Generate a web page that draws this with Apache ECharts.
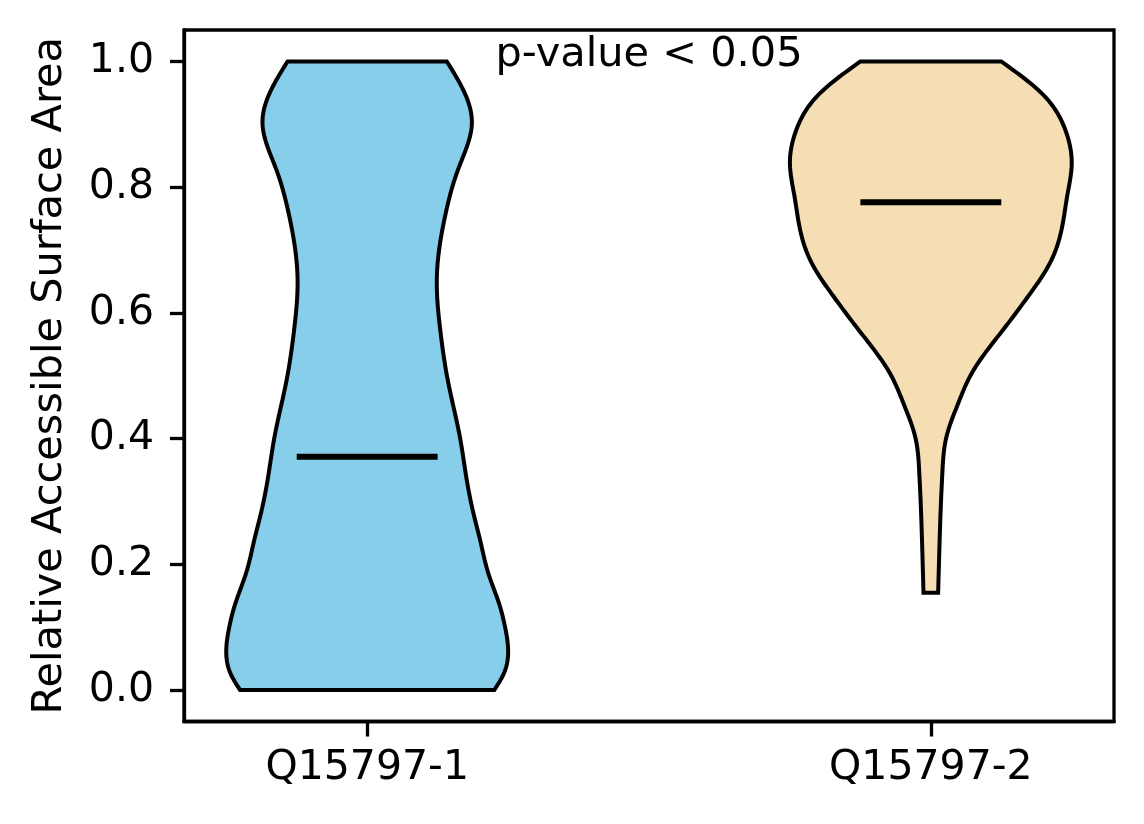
<!DOCTYPE html>
<html>
<head>
<meta charset="utf-8">
<script src="https://cdn.jsdelivr.net/npm/echarts@6/dist/echarts.min.js"></script>
<style>html,body{margin:0;padding:0;background:#fff;}#chart{width:1144px;height:824px;}</style>
</head>
<body>
<div id="chart"></div>
<script>
// ---- data ----
var categories = ['Q15797-1', 'Q15797-2'];
var positions = [1, 2];
var medians = [0.371, 0.776];
var yTicks = [0.0, 0.2, 0.4, 0.6, 0.8, 1.0];
// violin profiles: value levels and relative density (1 = widest)
var violin1Values  = [0.0, 0.028, 0.065, 0.102, 0.134, 0.187, 0.24, 0.272, 0.335, 0.4, 0.494, 0.574, 0.653, 0.754, 0.828, 0.9025, 0.955, 1.0];
var violin1Density = [0.902, 0.973, 1.0, 0.977, 0.941, 0.858, 0.80, 0.764, 0.706, 0.66, 0.571, 0.518, 0.494, 0.553, 0.645, 0.743, 0.681, 0.565];
var violin2Values  = [0.155, 0.203, 0.256, 0.309, 0.346, 0.399, 0.42, 0.452, 0.505, 0.574, 0.627, 0.68, 0.722, 0.786, 0.839, 0.892, 0.945, 1.0];
var violin2Density = [0.052, 0.058, 0.065, 0.074, 0.082, 0.107, 0.133, 0.187, 0.293, 0.516, 0.693, 0.847, 0.917, 0.968, 1.0, 0.953, 0.806, 0.5];
var fillColors = ['#87CEEB', '#F5DEB3'];
var annotation = 'p-value < 0.05';

var profiles = [
  {values: violin1Values, density: violin1Density},
  {values: violin2Values, density: violin2Density}
];
var halfWidth = 0.25; // violin width 0.5

// natural cubic spline through the read profile (visual smoothing only)
function makeSpline(xs, ys) {
  var n = xs.length, h = [], al = [], l = [1], mu = [0], z = [0], c = new Array(n).fill(0), b = [], d = [];
  for (var i = 0; i < n - 1; i++) h.push(xs[i + 1] - xs[i]);
  for (i = 1; i < n - 1; i++) al[i] = 3 / h[i] * (ys[i + 1] - ys[i]) - 3 / h[i - 1] * (ys[i] - ys[i - 1]);
  for (i = 1; i < n - 1; i++) {
    l[i] = 2 * (xs[i + 1] - xs[i - 1]) - h[i - 1] * mu[i - 1];
    mu[i] = h[i] / l[i];
    z[i] = (al[i] - h[i - 1] * z[i - 1]) / l[i];
  }
  z[n - 1] = 0;
  for (var j = n - 2; j >= 0; j--) {
    c[j] = z[j] - mu[j] * c[j + 1];
    b[j] = (ys[j + 1] - ys[j]) / h[j] - h[j] * (c[j + 1] + 2 * c[j]) / 3;
    d[j] = (c[j + 1] - c[j]) / (3 * h[j]);
  }
  return function (x) {
    var k = 0;
    while (k < n - 2 && x > xs[k + 1]) k++;
    var dx = x - xs[k];
    return ys[k] + b[k] * dx + c[k] * dx * dx + d[k] * dx * dx * dx;
  };
}

var chart = echarts.init(document.getElementById('chart'), null, {renderer: 'canvas'});
var font = 'DejaVu Sans';

var violinData = positions.map(function (p, i) { return [p, medians[i], i]; });

chart.setOption({
  backgroundColor: '#fff',
  animation: false,
  grid: {left: 184, right: 30, top: 30, bottom: 102.5, show: true, borderColor: '#000', borderWidth: 3.3, backgroundColor: 'transparent'},
  xAxis: {
    type: 'value', min: 0.675, max: 2.325,
    splitLine: {show: false},
    axisLine: {show: true, onZero: false, lineStyle: {color: '#000', width: 3.3}},
    axisTick: {show: true, length: 15, lineStyle: {color: '#000', width: 3.3}, customValues: positions},
    axisLabel: {show: true, customValues: positions, margin: 26, color: '#000', fontFamily: font, fontSize: 41,
      formatter: function (v) { var k = positions.indexOf(Math.round(v)); return k >= 0 ? categories[k] : ''; }}
  },
  yAxis: {
    type: 'value', min: -0.05, max: 1.05,
    name: 'Relative Accessible Surface Area', nameLocation: 'middle', nameGap: 113, nameRotate: 90,
    nameTextStyle: {color: '#000', fontFamily: font, fontSize: 41.5},
    splitLine: {show: false},
    axisLine: {show: true, onZero: false, lineStyle: {color: '#000', width: 3.3}},
    axisTick: {show: true, length: 14, lineStyle: {color: '#000', width: 3.3}, customValues: yTicks},
    axisLabel: {show: true, customValues: yTicks, margin: 30, color: '#000', fontFamily: font, fontSize: 41,
      formatter: function (v) { return v.toFixed(1); }}
  },
  series: [
    {
      type: 'custom',
      coordinateSystem: 'cartesian2d',
      data: violinData,
      encode: {x: 0, y: 1},
      renderItem: function (params, api) {
        var idx = api.value(2);
        var pos = api.value(0);
        var prof = profiles[idx];
        var f = makeSpline(prof.values, prof.density);
        var v0 = prof.values[0], v1 = prof.values[prof.values.length - 1];
        var steps = 240, left = [], right = [];
        for (var s = 0; s <= steps; s++) {
          var v = v0 + (v1 - v0) * s / steps;
          var w = Math.max(f(v), 0) * halfWidth;
          left.push(api.coord([pos - w, v]));
          right.push(api.coord([pos + w, v]));
        }
        var poly = left.concat(right.reverse());
        var m1 = api.coord([pos - halfWidth / 2, api.value(1)]);
        var m2 = api.coord([pos + halfWidth / 2, api.value(1)]);
        return {
          type: 'group',
          children: [
            {type: 'polygon', shape: {points: poly}, style: {fill: fillColors[idx], stroke: '#000', lineWidth: 4, lineJoin: 'miter'}},
            {type: 'line', shape: {x1: m1[0], y1: m1[1], x2: m2[0], y2: m2[1]}, style: {stroke: '#000', lineWidth: 6}}
          ]
        };
      },
      z: 2
    },
    {
      type: 'custom',
      coordinateSystem: 'cartesian2d',
      data: [[1.5, 1.0]],
      renderItem: function (params, api) {
        var c = api.coord([api.value(0), api.value(1)]);
        return {type: 'text', x: c[0], y: c[1] - 6, style: {text: annotation, fill: '#000', font: '41.5px "DejaVu Sans"', align: 'center', verticalAlign: 'middle'}};
      },
      z: 3
    }
  ]
});
</script>
</body>
</html>
